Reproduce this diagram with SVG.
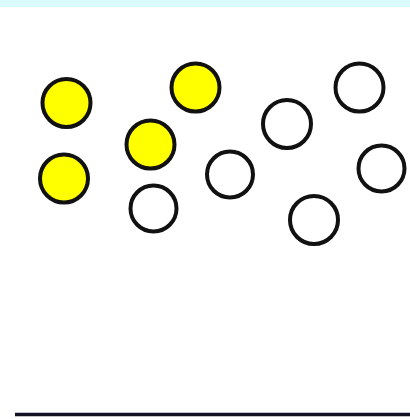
<svg xmlns="http://www.w3.org/2000/svg" width="410" height="419" viewBox="0 0 410 419">
<style>
.c{stroke:#111;stroke-width:4;}
.y{fill:#ffff00;}
.e{fill:#ffffff;}
</style>
<rect x="0" y="0" width="410" height="419" fill="#ffffff"/>
<rect x="0" y="0" width="410" height="7" fill="#dafbfc"/>
<g id="yellow1"><circle class="c y" cx="66.5" cy="103" r="24"/></g>
<g id="yellow2"><circle class="c y" cx="195.5" cy="87.5" r="24"/></g>
<g id="yellow3"><circle class="c y" cx="150.5" cy="144.5" r="24"/></g>
<g id="yellow4"><circle class="c y" cx="64" cy="178.5" r="24"/></g>
<g id="empty1"><circle class="c e" cx="153.5" cy="208.5" r="23"/></g>
<g id="empty2"><circle class="c e" cx="230" cy="174.5" r="23"/></g>
<g id="empty3"><circle class="c e" cx="287" cy="124" r="24"/></g>
<g id="empty4"><circle class="c e" cx="359.5" cy="87.5" r="24"/></g>
<g id="empty5"><circle class="c e" cx="381.5" cy="168.5" r="23"/></g>
<g id="empty6"><circle class="c e" cx="314" cy="220" r="24"/></g>
<g id="connectors"><line x1="15" y1="414.5" x2="410" y2="414.5" stroke="#111122" stroke-width="3.5"/></g>
</svg>
